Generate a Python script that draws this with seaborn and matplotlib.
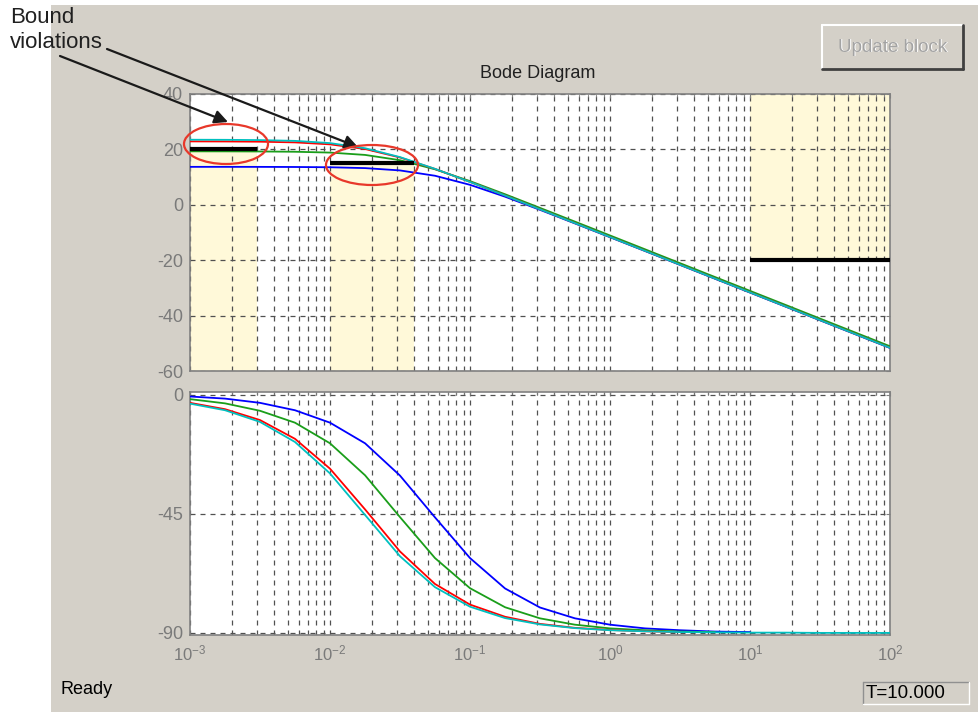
import numpy as np
import pandas as pd
import matplotlib
matplotlib.use("Agg")
import matplotlib.pyplot as plt
import seaborn as sns
from matplotlib.patches import Ellipse, Rectangle
from matplotlib.lines import Line2D
from matplotlib.ticker import LogLocator

# frequencies (rad/s), quarter-decade steps
freq = [0.001, 0.00178, 0.00316, 0.00562, 0.01, 0.0178, 0.0316, 0.0562, 0.1,
        0.178, 0.316, 0.562, 1.0, 1.78, 3.16, 5.62, 10.0, 17.8, 31.6, 56.2, 100.0]

# magnitude (dB)
mag_blue = [13.70, 13.70, 13.69, 13.65, 13.55, 13.25, 12.41, 10.49, 7.21, 2.93, -1.81,
            -6.73, -11.70, -16.69, -21.69, -26.69, -31.69, -36.69, -41.69, -46.69, -51.69]
mag_green = [19.30, 19.29, 19.25, 19.15, 18.85, 18.01, 16.10, 12.82, 8.55, 3.81, -1.11,
             -6.08, -11.07, -16.07, -21.07, -26.07, -31.07, -36.07, -41.07, -46.07, -51.07]
mag_red = [22.89, 22.86, 22.78, 22.53, 21.82, 20.14, 17.09, 12.95, 8.26, 3.37, -1.60,
           -6.59, -11.59, -16.59, -21.59, -26.59, -31.59, -36.59, -41.59, -46.59, -51.59]
mag_cyan = [23.49, 23.46, 23.36, 23.08, 22.28, 20.43, 17.22, 12.98, 8.25, 3.34, -1.63,
            -6.62, -11.62, -16.62, -21.62, -26.62, -31.62, -36.62, -41.62, -46.62, -51.62]

# phase (deg); shorter curves stop where the picture stops
ph_blue = [-0.6, -1.4, -3.0, -5.8, -10.5, -18.3, -30.5, -46.3, -61.7, -73.2, -80.4,
           -84.5, -86.9, -88.3, -89.0, -89.5, -89.7]
ph_green = [-1.6, -3.2, -6.0, -10.5, -18.3, -30.4, -46.2, -61.7, -73.1, -80.3, -84.5,
            -86.9, -88.3, -89.0, -89.5, -89.7]
ph_red = [-3.0, -5.4, -9.5, -16.6, -27.9, -43.3, -59.2, -71.5, -79.3, -83.9, -86.6,
          -88.1, -88.9, -89.4, -89.7]
ph_cyan = [-3.3, -5.8, -10.2, -17.8, -29.7, -45.4, -61.0, -72.7, -80.1, -84.4, -86.8,
           -88.2, -89.0, -89.4, -89.7, -89.8, -89.9, -89.9, -90.0, -90.0, -90.0]

# design bounds
lower_w = [(0.001, 0.003), (0.01, 0.04)]
lower_db = [20, 15]
upper_w = (10, 100)
upper_db = -20

series = ["blue", "green", "red", "cyan"]
colors = {"blue": "#0000ff", "green": "#1a9e1a", "red": "#ff0000", "cyan": "#00c0c0"}

mag_df = pd.concat([pd.DataFrame({"w": freq, "val": m, "sys": s})
                    for s, m in zip(series, [mag_blue, mag_green, mag_red, mag_cyan])])
ph_df = pd.concat([pd.DataFrame({"w": freq[:len(p)], "val": p, "sys": s})
                   for s, p in zip(series, [ph_blue, ph_green, ph_red, ph_cyan])])

sns.set_style("white")
plt.rcParams["font.family"] = ["Liberation Sans", "DejaVu Sans"]
plt.rcParams["axes.unicode_minus"] = False

W, H = 979, 712
bg = "#d4d0c8"
yellow = "#fff9d9"
fig = plt.figure(figsize=(W / 100, H / 100), dpi=100, facecolor=bg)


def fx(x):
    return x / W


def fy(y):
    return 1 - y / H


# white margin left/top (outside the screenshot)
fig.patches.append(Rectangle((0, 0), fx(51), 1, transform=fig.transFigure,
                             facecolor="white", edgecolor="none", zorder=0))
fig.patches.append(Rectangle((0, fy(5)), 1, 1, transform=fig.transFigure,
                             facecolor="white", edgecolor="none", zorder=0))

ax1 = fig.add_axes([fx(190), fy(371), fx(700), 277 / H])
ax2 = fig.add_axes([fx(190), fy(635), fx(700), 243 / H])

# bound regions
for (w0, w1), lev in zip(lower_w, lower_db):
    ax1.fill_between([w0, w1], -60, lev, color=yellow, lw=0, zorder=0)
ax1.fill_between(list(upper_w), upper_db, 40, color=yellow, lw=0, zorder=0)

sns.lineplot(data=mag_df, x="w", y="val", hue="sys", palette=colors, hue_order=series,
             estimator=None, sort=False, legend=False, lw=1.3, ax=ax1, zorder=3)
sns.lineplot(data=ph_df, x="w", y="val", hue="sys", palette=colors, hue_order=series,
             estimator=None, sort=False, legend=False, lw=1.3, ax=ax2, zorder=3)

for (w0, w1), lev in zip(lower_w, lower_db):
    ax1.plot([w0, w1], [lev, lev], color="black", lw=3, zorder=4, solid_capstyle="butt")
ax1.plot(list(upper_w), [upper_db, upper_db], color="black", lw=3, zorder=4,
         solid_capstyle="butt")

ax1.set_ylim(-60, 40)
ax1.set_yticks([-60, -40, -20, 0, 20, 40])
ax2.set_ylim(-90.8, 1.1)
ax2.set_yticks([-90, -45, 0])

for ax in (ax1, ax2):
    ax.set_xscale("log")
    ax.set_xlim(1e-3, 1e2)
    ax.set_facecolor("white")
    ax.set_xlabel("")
    ax.set_ylabel("")
    ax.xaxis.set_major_locator(LogLocator(base=10, numticks=10))
    ax.xaxis.set_minor_locator(LogLocator(base=10, subs=np.arange(2, 10), numticks=10))
    ax.grid(True, which="major", axis="both", color="#505050", lw=0.9,
            ls=(0, (4, 4)))
    ax.grid(True, which="minor", axis="x", color="#505050", lw=0.9, ls=(0, (4, 4)))
    for sp in ax.spines.values():
        sp.set_color("#808080")
        sp.set_linewidth(1.2)
    ax.tick_params(which="both", direction="in", colors="#808080", labelcolor="#7a7a7a",
                   labelsize=13, top=True, right=True, length=3, pad=5)
    ax.tick_params(which="minor", length=2)
    for gl in ax.get_xgridlines() + ax.get_ygridlines():
        gl.set_zorder(1)

ax1.tick_params(axis="x", labelbottom=False)
ax2.tick_params(axis="x", pad=6, labelsize=12)

fig.text(fx(538), fy(73), "Bode Diagram", ha="center", va="center", fontsize=13,
         color="#202020")

# annotation
fig.text(fx(10), fy(7), "Bound\nviolations", ha="left", va="top", fontsize=16,
         color="#202020", linespacing=1.25)
for (x0, y0), (x1, y1) in [((60, 56), (228, 122)), ((107, 49), (358, 147))]:
    ax1.annotate("", xy=(fx(x1), fy(y1)), xytext=(fx(x0), fy(y0)),
                 xycoords="figure fraction", textcoords="figure fraction",
                 arrowprops=dict(arrowstyle="-|>", color="#1a1a1a", lw=1.6,
                                 mutation_scale=20, shrinkA=0, shrinkB=0))
for cx, cy, ew, eh in [(226, 144, 84, 40), (372, 165, 92, 40)]:
    fig.patches.append(Ellipse((fx(cx), fy(cy)), fx(ew), eh / H, transform=fig.transFigure,
                               facecolor="none", edgecolor="#e8382a", lw=1.6, zorder=10))

# "Update block" button
bx0, by0, bx1, by1 = 822, 25, 963, 69
fig.patches.append(Rectangle((fx(bx0), fy(by1)), fx(bx1 - bx0), (by1 - by0) / H,
                             transform=fig.transFigure, facecolor=bg, edgecolor="none"))
fig.add_artist(Line2D([fx(bx0), fx(bx1)], [fy(by0), fy(by0)], color="white", lw=1.5))
fig.add_artist(Line2D([fx(bx0), fx(bx0)], [fy(by0), fy(by1)], color="white", lw=1.5))
fig.add_artist(Line2D([fx(bx0), fx(bx1)], [fy(by1), fy(by1)], color="#404040", lw=2))
fig.add_artist(Line2D([fx(bx1), fx(bx1)], [fy(by0), fy(by1)], color="#404040", lw=2))
fig.text(fx(893.8), fy(47.8), "Update block", ha="center", va="center", fontsize=13.5,
         color="white")
fig.text(fx(893), fy(47), "Update block", ha="center", va="center", fontsize=13.5,
         color="#a3a3a3")

# status bar
fig.text(fx(61), fy(690), "Ready", ha="left", va="center", fontsize=13, color="black")
tx0, ty0, tx1, ty1 = 863, 682, 969, 704
fig.add_artist(Line2D([fx(tx0), fx(tx1)], [fy(ty0), fy(ty0)], color="#909090", lw=1))
fig.add_artist(Line2D([fx(tx0), fx(tx0)], [fy(ty0), fy(ty1)], color="#909090", lw=1))
fig.add_artist(Line2D([fx(tx0), fx(tx1)], [fy(ty1), fy(ty1)], color="white", lw=1))
fig.add_artist(Line2D([fx(tx1), fx(tx1)], [fy(ty0), fy(ty1)], color="white", lw=1))
fig.text(fx(866), fy(693), "T=10.000", ha="left", va="center", fontsize=13.5, color="black")

fig.savefig("out.png", dpi=100, facecolor=bg)
